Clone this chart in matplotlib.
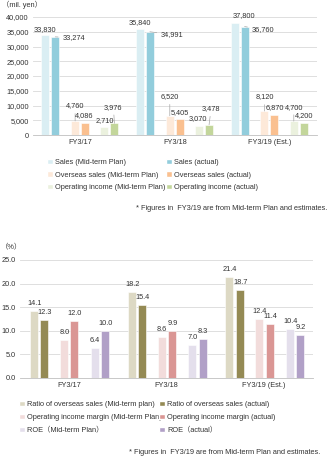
import numpy as np
import matplotlib.pyplot as plt
from matplotlib.patches import Patch
from matplotlib.ticker import FuncFormatter

plt.rcParams['font.family'] = ['Liberation Sans', 'Noto Sans CJK JP', 'DejaVu Sans']
plt.rcParams['font.size'] = 5.3
plt.rcParams['text.color'] = '#333333'

years = ['FY3/17', 'FY3/18', 'FY3/19 (Est.)']

# sales / overseas sales / operating income (mil. yen)
sales_plan = [33830, 35840, 37800]
sales_act = [33274, 34991, 36760]
overseas_plan = [4760, 6520, 8120]
overseas_act = [4086, 5405, 6870]
opinc_plan = [2710, 3070, 4700]
opinc_act = [3976, 3478, 4200]

# ratios (%)
ratio_plan = [14.1, 18.2, 21.4]
ratio_act = [12.3, 15.4, 18.7]
margin_plan = [8.0, 8.6, 12.4]
margin_act = [12.0, 9.9, 11.4]
roe_plan = [6.4, 7.0, 10.4]
roe_act = [10.0, 8.3, 9.2]

top_names = ['Sales (Mid-term Plan)', 'Sales (actual)',
             'Overseas sales (Mid-term Plan)', 'Overseas sales (actual)',
             'Operating income (Mid-term Plan)', 'Operating income (actual)']
bot_names = ['Ratio of overseas sales (Mid-term plan)', 'Ratio of overseas sales (actual)',
             'Operating income margin (Mid-term Plan)', 'Operating income margin (actual)',
             'ROE（Mid-term Plan）', 'ROE（actual）']

top_colors = ['#DAEEF3', '#92CDDC', '#FDE9D9', '#FAC090', '#EBF1DE', '#C3D69B']
bot_colors = ['#DDD9C4', '#948A54', '#F2DCDB', '#DA9694', '#E4DFEC', '#B1A0C7']

# bar offsets inside a category: three pairs (plan, actual)
offs = [-0.37, -0.265, -0.055, 0.05, 0.255, 0.36]
bw = 0.084
x = np.arange(3)

# label placement for the money chart, px from bar top: (dx, up, leader)
top_lbl = [
    [(0, 6, 0), (20, -1, 1), (0, 15, 1), (-1, 7, 0), (0, 6, 0), (-1, 16, 1)],
    [(0, 7, 0), (24, -3, 1), (0, 19, 1), (0, 7, 0), (-1, 7, 0), (2, 16, 1)],
    [(9, 8, 0), (20, -3, 1), (0, 14, 1), (0, 7, 0), (0, 14, 1), (0, 7, 0)],
]

PX = 0.72  # points per pixel at 100 dpi

fig = plt.figure(figsize=(3.31, 4.57), dpi=100)


def style_axes(ax, ymax, step, fmt):
    ax.set_xlim(-0.5, 2.5)
    ax.set_ylim(0, ymax)
    ax.set_yticks(np.arange(0, ymax + step / 2, step))
    ax.yaxis.set_major_formatter(FuncFormatter(fmt))
    ax.set_xticks(x)
    ax.set_xticklabels(years)
    for s in ['top', 'right', 'left']:
        ax.spines[s].set_visible(False)
    ax.spines['bottom'].set_color('#BFBFBF')
    ax.spines['bottom'].set_linewidth(0.6)
    ax.tick_params(length=0, pad=3, labelsize=5.3, colors='#333333')
    ax.grid(axis='y', color='#D9D9D9', lw=0.6)
    ax.set_axisbelow(True)


def add_legend(handles, names, x0, y0, spacing):
    fig.legend(handles, names, loc='upper left', bbox_to_anchor=(x0 / 331, 1 - y0 / 457),
               frameon=False, fontsize=5.3, handlelength=0.75, handleheight=0.75,
               handletextpad=0.4, labelspacing=spacing, borderpad=0, borderaxespad=0)


# ---- money chart ----
ax1 = fig.add_axes([33 / 331, 1 - 135 / 457, 284 / 331, 118 / 457])
top_series = [sales_plan, sales_act, overseas_plan, overseas_act, opinc_plan, opinc_act]
for k, vals in enumerate(top_series):
    bars = ax1.bar(x + offs[k], vals, bw, color=top_colors[k], edgecolor='white', lw=0.4)
    for i, b in enumerate(bars):
        dx, up, lead = top_lbl[i][k]
        v = vals[i]
        ha = 'left' if (k == 1) else 'center'
        if ha == 'left':
            dx = dx - 13
        ax1.annotate(f'{v:,}', (b.get_x() + b.get_width() / 2, v),
                     xytext=(dx * PX, up * PX), textcoords='offset points',
                     ha=ha, va='center', fontsize=5.3,
                     arrowprops=dict(arrowstyle='-', color='#A6A6A6', lw=0.5,
                                     shrinkA=1, shrinkB=0) if lead else None)
style_axes(ax1, 40000, 5000, lambda v, p: f'{int(v):,}')
fig.text(2 / 331, 1 - 5 / 457, '（mil. yen）', fontsize=5.3, va='center', ha='left')

h1 = [Patch(facecolor=c, edgecolor='white') for c in top_colors]
add_legend(h1[0::2], top_names[0::2], 47, 159, 0.7)
add_legend(h1[1::2], top_names[1::2], 166, 159, 0.7)
fig.text(327 / 331, 1 - 208 / 457, '* Figures in  FY3/19 are from Mid-term Plan and estimates.',
         fontsize=5.3, ha='right', va='center')

# ---- ratio chart ----
ax2 = fig.add_axes([20 / 331, 1 - 378 / 457, 293 / 331, 118 / 457])
bot_series = [ratio_plan, ratio_act, margin_plan, margin_act, roe_plan, roe_act]
offs2 = [-0.355, -0.25, -0.05, 0.055, 0.265, 0.37]
for k, vals in enumerate(bot_series):
    bars = ax2.bar(x + offs2[k], vals, 0.082, color=bot_colors[k], edgecolor='white', lw=0.4)
    for b, v in zip(bars, vals):
        ax2.annotate(f'{v:.1f}', (b.get_x() + b.get_width() / 2, v),
                     xytext=(0.5 * PX, 7.5 * PX), textcoords='offset points',
                     ha='center', va='center', fontsize=5.3)
style_axes(ax2, 25, 5, lambda v, p: f'{v:.1f}')
fig.text(1 / 331, 1 - 248 / 457, '（%）', fontsize=5.3, va='center', ha='left')

h2 = [Patch(facecolor=c, edgecolor='white') for c in bot_colors]
add_legend(h2[0::2], bot_names[0::2], 19, 401, 0.75)
add_legend(h2[1::2], bot_names[1::2], 159, 401, 0.75)
fig.text(320 / 331, 1 - 452 / 457, '* Figures in  FY3/19 are from Mid-term Plan and estimates.',
         fontsize=5.3, ha='right', va='center')

fig.savefig('out.png', dpi=100, facecolor='white')
